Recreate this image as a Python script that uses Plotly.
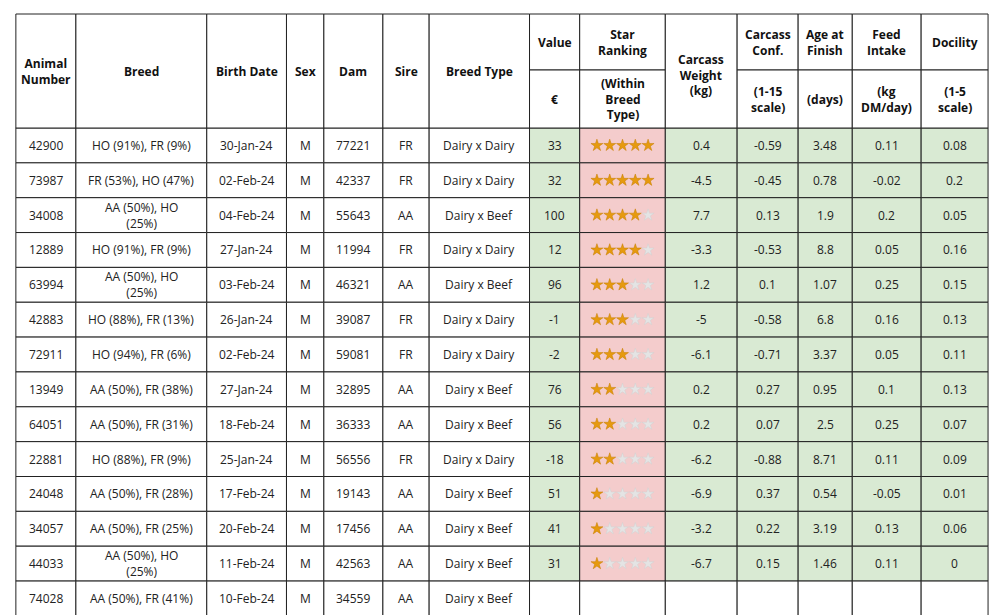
import plotly.graph_objects as go

animal = ["42900", "73987", "34008", "12889", "63994", "42883", "72911", "13949", "64051", "22881", "24048", "34057", "44033", "74028"]
breed = ["HO (91%), FR (9%)", "FR (53%), HO (47%)", "AA (50%), HO<br>(25%)", "HO (91%), FR (9%)", "AA (50%), HO<br>(25%)",
         "HO (88%), FR (13%)", "HO (94%), FR (6%)", "AA (50%), FR (38%)", "AA (50%), FR (31%)", "HO (88%), FR (9%)",
         "AA (50%), FR (28%)", "AA (50%), FR (25%)", "AA (50%), HO<br>(25%)", "AA (50%), FR (41%)"]
birth = ["30-Jan-24", "02-Feb-24", "04-Feb-24", "27-Jan-24", "03-Feb-24", "26-Jan-24", "02-Feb-24", "27-Jan-24",
         "18-Feb-24", "25-Jan-24", "17-Feb-24", "20-Feb-24", "11-Feb-24", "10-Feb-24"]
sex = ["M"] * 14
dam = ["77221", "42337", "55643", "11994", "46321", "39087", "59081", "32895", "36333", "56556", "19143", "17456", "42563", "34559"]
sire = ["FR", "FR", "AA", "FR", "AA", "FR", "FR", "AA", "AA", "FR", "AA", "AA", "AA", "AA"]
breed_type = ["Dairy x Dairy", "Dairy x Dairy", "Dairy x Beef", "Dairy x Dairy", "Dairy x Beef", "Dairy x Dairy", "Dairy x Dairy",
              "Dairy x Beef", "Dairy x Beef", "Dairy x Dairy", "Dairy x Beef", "Dairy x Beef", "Dairy x Beef", "Dairy x Beef"]
value = ["33", "32", "100", "12", "96", "-1", "-2", "76", "56", "-18", "51", "41", "31", ""]
stars = [5, 5, 4, 4, 3, 3, 3, 2, 2, 2, 1, 1, 1, 0]
carcass_wt = ["0.4", "-4.5", "7.7", "-3.3", "1.2", "-5", "-6.1", "0.2", "0.2", "-6.2", "-6.9", "-3.2", "-6.7", ""]
carcass_conf = ["-0.59", "-0.45", "0.13", "-0.53", "0.1", "-0.58", "-0.71", "0.27", "0.07", "-0.88", "0.37", "0.22", "0.15", ""]
age_finish = ["3.48", "0.78", "1.9", "8.8", "1.07", "6.8", "3.37", "0.95", "2.5", "8.71", "0.54", "3.19", "1.46", ""]
feed = ["0.11", "-0.02", "0.2", "0.05", "0.25", "0.16", "0.05", "0.1", "0.25", "0.11", "-0.05", "0.13", "0.11", ""]
docility = ["0.08", "0.2", "0.05", "0.16", "0.15", "0.13", "0.11", "0.13", "0.07", "0.09", "0.01", "0.06", "0", ""]

headers_top = ["Animal<br>Number", "Breed", "Birth Date", "Sex", "Dam", "Sire", "Breed Type",
               "Value", "Star<br>Ranking", "Carcass<br>Weight<br>(kg)", "Carcass<br>Conf.", "Age at<br>Finish", "Feed<br>Intake", "Docility"]
headers_sub = [None] * 7 + ["€", "(Within<br>Breed<br>Type)", None, "(1-15<br>scale)", "(days)", "(kg<br>DM/day)", "(1-5<br>scale)"]

# layout geometry (pixels)
col_edges = [8, 69, 202, 283, 321, 381, 428, 530, 581, 668, 741, 803, 858, 928, 996]
top, mid, hbot, row_h = 6, 62, 120, 34.85

cols = [animal, breed, birth, sex, dam, sire, breed_type, value, None, carcass_wt, carcass_conf, age_finish, feed, docility]

fig = go.Figure()
shapes, annots = [], []
font = dict(family="Open Sans, Liberation Sans, sans-serif", size=12, color="#222")
bold = dict(family="Open Sans, Liberation Sans, sans-serif", size=12, color="#111")

n = len(animal)
for r in range(n):
    y0 = hbot + r * row_h
    y1 = y0 + row_h
    for c in range(14):
        x0, x1 = col_edges[c], col_edges[c + 1]
        fill = "white"
        if c >= 7 and r < n - 1:
            fill = "#f4cccc" if c == 8 else "#d9ead3"
        shapes.append(dict(type="rect", x0=x0, x1=x1, y0=y0, y1=y1, fillcolor=fill,
                           line=dict(color="#222", width=1), layer="below"))
        if c != 8:
            annots.append(dict(x=(x0 + x1) / 2, y=(y0 + y1) / 2, text=cols[c][r], showarrow=False,
                               font=font, xanchor="center", yanchor="middle"))

# header cells
for c in range(14):
    x0, x1 = col_edges[c], col_edges[c + 1]
    if headers_sub[c] is None:
        shapes.append(dict(type="rect", x0=x0, x1=x1, y0=top, y1=hbot, fillcolor="white",
                           line=dict(color="#222", width=1), layer="below"))
        yc = (top + hbot) / 2 if c != 9 else (top + hbot) / 2 + 4
        annots.append(dict(x=(x0 + x1) / 2, y=yc, text="<b>" + headers_top[c] + "</b>", showarrow=False,
                           font=bold, xanchor="center", yanchor="middle"))
    else:
        for (a, b, t) in [(top, mid, headers_top[c]), (mid, hbot, headers_sub[c])]:
            shapes.append(dict(type="rect", x0=x0, x1=x1, y0=a, y1=b, fillcolor="white",
                               line=dict(color="#222", width=1), layer="below"))
            annots.append(dict(x=(x0 + x1) / 2, y=(a + b) / 2, text="<b>" + t + "</b>", showarrow=False,
                               font=bold, xanchor="center", yanchor="middle"))

# stars
sx_full, sy_full, sx_empty, sy_empty = [], [], [], []
xc = (col_edges[8] + col_edges[9]) / 2
for r, s in enumerate(stars):
    if r == n - 1:
        continue
    yc = hbot + r * row_h + row_h / 2
    for k in range(5):
        x = xc + (k - 2) * 13
        if k < s:
            sx_full.append(x); sy_full.append(yc)
        else:
            sx_empty.append(x); sy_empty.append(yc)
fig.add_trace(go.Scatter(x=sx_full, y=sy_full, mode="markers",
                         marker=dict(symbol="star", size=9, color="#e69a0f", line=dict(color="#c47d00", width=0.5)),
                         hoverinfo="skip"))
fig.add_trace(go.Scatter(x=sx_empty, y=sy_empty, mode="markers",
                         marker=dict(symbol="star", size=9, color="#e4e4e4", line=dict(color="#d0d0d0", width=0.5)),
                         hoverinfo="skip"))

fig.update_layout(
    autosize=True, margin=dict(l=0, r=0, t=0, b=0),
    paper_bgcolor="white", plot_bgcolor="white", showlegend=False,
    xaxis=dict(range=[0, 1000], visible=False, fixedrange=True),
    yaxis=dict(range=[615, 0], visible=False, fixedrange=True),
    shapes=shapes, annotations=annots,
)
fig.write_html("out.html", config=dict(responsive=True), default_height="100vh", default_width="100%")
